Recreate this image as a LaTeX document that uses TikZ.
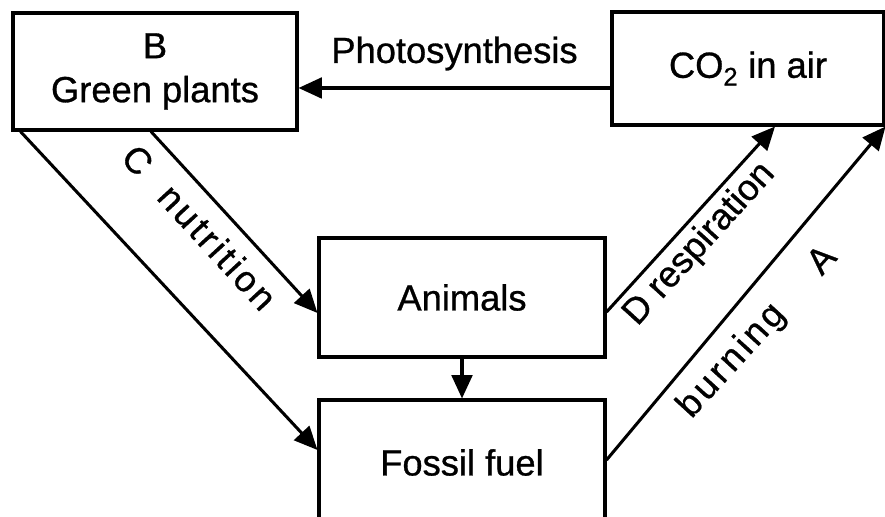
\documentclass[tikz,border=0pt]{standalone}
\usepackage{fontspec}
\setmainfont{Liberation Sans}
\usetikzlibrary{calc}
\usetikzlibrary{positioning,arrows.meta}

\begin{document}
\begin{tikzpicture}[x=0.03cm, y=0.03cm,
  font=\fontsize{31}{37.5}\selectfont\addfontfeature{FakeBold=0.8},
  box/.style={draw, line width=2.6pt, inner sep=0pt, align=center},
  flow/.style={line width=2.6pt, -{Triangle[length=0.7cm, width=0.62cm]}},
  lbl/.style={inner sep=0pt},
  wide/.style={font=\fontsize{31}{37.5}\selectfont\addfontfeature{FakeBold=0.8,LetterSpace=9}}]

% Picture frame (the boxes run off the right and bottom edges)
\clip (0,0) rectangle (885,517);

% Boxes for the carbon stores
\node[box, minimum width=8.52cm, minimum height=3.51cm] (plants) at (155,445.5) {B\\Green plants};
\node[box, minimum width=8.16cm, minimum height=3.39cm] (co2) at (748,448.5) {CO\textsubscript{2} in air};
\node[box, minimum width=8.58cm, minimum height=3.57cm] (animals) at (462,219.5) {Animals};
\node[box, minimum width=8.58cm, minimum height=3.75cm] (fossil) at (462,54.5) {Fossil fuel};

% Photosynthesis, air to plants
\draw[flow] ($(co2.west)+(0,-19.5)$) -- ($(plants.east)+(0,-16.5)$)
  node[lbl, midway, above=0.48cm] (photo) {Photosynthesis};

% Plants feed animals, and end up as fossil fuel
\draw[flow] ($(plants.south)+(-4,0)$) -- ($(animals.west)+(0,-15.5)$)
  node[lbl, wide, sloped, pos=0.42, below=0.42cm] (nutri) {C\hspace{0.75em}nutrition};
\draw[flow] ($(plants.south west)+(9,0)$) -- ($(fossil.west)+(0,12.5)$);

% Animals to fossil fuel
\draw[flow] (animals.south) -- (fossil.north);

% Back to the air
\draw[flow] ($(animals.east)+(0,-14.5)$) -- ($(co2.south)+(27,0)$)
  node[lbl, sloped, pos=0.45, below=0.15cm] (resp) {D respiration};
\draw[flow] ($(fossil.east)+(0,2.5)$) -- (co2.south east)
  node[lbl, wide, sloped, rotate=-2.5, pos=0.45, below=0.48cm] (burn) {burning\hspace{1.45em}A};

\end{tikzpicture}
\end{document}
